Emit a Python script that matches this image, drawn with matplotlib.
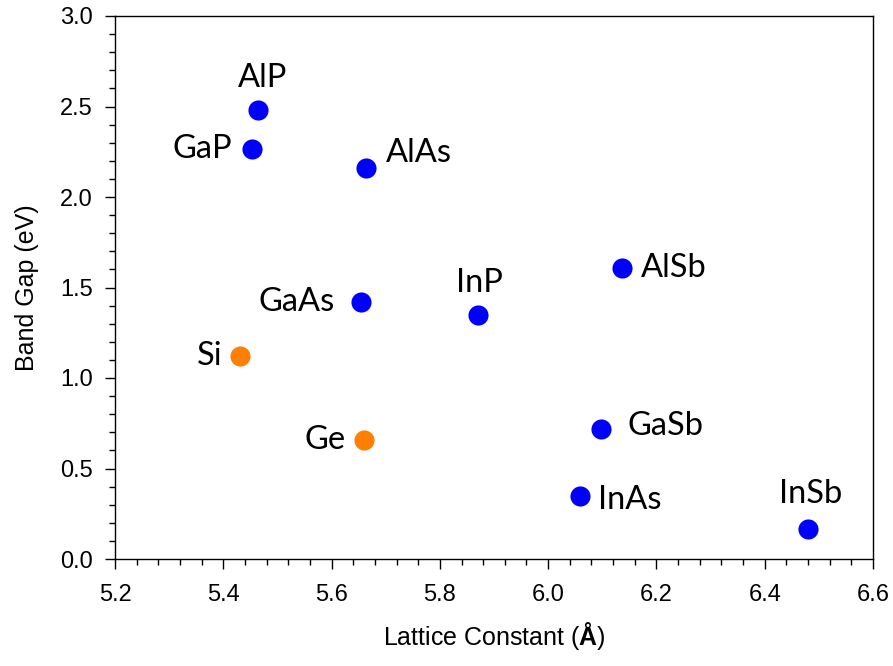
import matplotlib
matplotlib.use('Agg')
import matplotlib.pyplot as plt
from matplotlib.ticker import MultipleLocator

plt.rcParams['font.family'] = ['Liberation Sans', 'DejaVu Sans']
plt.rcParams['mathtext.fontset'] = 'custom'
plt.rcParams['mathtext.rm'] = 'Liberation Sans'
plt.rcParams['mathtext.bf'] = 'Liberation Sans:bold'

# III-V compounds (blue) and group IV elements (orange)
names = ['AlP', 'GaP', 'AlAs', 'GaAs', 'InP', 'AlSb', 'GaSb', 'InAs', 'InSb']
lattice = [5.464, 5.453, 5.664, 5.654, 5.870, 6.136, 6.098, 6.059, 6.480]
gap = [2.48, 2.265, 2.16, 1.42, 1.35, 1.61, 0.72, 0.35, 0.165]

elem_names = ['Si', 'Ge']
elem_lattice = [5.431, 5.660]
elem_gap = [1.12, 0.66]

# label offsets in points and alignment
offsets = {
    'AlP': (3, 23, 'center'), 'GaP': (-14, 0, 'right'), 'AlAs': (14, 11, 'left'),
    'GaAs': (-19, 0, 'right'), 'InP': (1, 23, 'center'), 'AlSb': (14, 0, 'left'),
    'GaSb': (19, 2, 'left'), 'InAs': (13, -3, 'left'), 'InSb': (2, 25, 'center'),
    'Si': (-13, 0, 'right'), 'Ge': (-13, 0, 'right'),
}

fig = plt.figure(figsize=(8.93, 6.66), dpi=100)
ax = fig.add_axes([115/893, 1 - 559/666, 758/893, 543/666])

ax.scatter(lattice, gap, s=210, color='#0000FF', zorder=3, linewidths=0)
ax.scatter(elem_lattice, elem_gap, s=210, color='#FF8000', zorder=3, linewidths=0)

for n, x, y in zip(names + elem_names, lattice + elem_lattice, gap + elem_gap):
    dx, dy, ha = offsets[n]
    ax.annotate(n, (x, y), xytext=(dx, dy), textcoords='offset points',
                ha=ha, va='center', fontsize=23.5, family=['Lato', 'DejaVu Sans'])

ax.set_xlim(5.2, 6.6)
ax.set_ylim(0, 3.0)
ax.xaxis.set_major_locator(MultipleLocator(0.2))
ax.xaxis.set_minor_locator(MultipleLocator(0.04))
ax.yaxis.set_major_locator(MultipleLocator(0.5))
ax.yaxis.set_minor_locator(MultipleLocator(0.1))
ax.xaxis.set_major_formatter('{x:.1f}')
ax.yaxis.set_major_formatter('{x:.1f}')
ax.tick_params(which='major', direction='out', length=7, width=1, labelsize=17)
ax.tick_params(axis='x', which='major', pad=11)
ax.tick_params(axis='y', which='major', pad=9)
ax.tick_params(which='minor', direction='out', length=4, width=1)
for s in ax.spines.values():
    s.set_linewidth(1)

ax.set_xlabel('Lattice Constant ($\\mathbf{Å}$)', fontsize=18, labelpad=10)
ax.set_ylabel('Band Gap (eV)', fontsize=18, labelpad=15)

fig.savefig('out.png', dpi=100)
